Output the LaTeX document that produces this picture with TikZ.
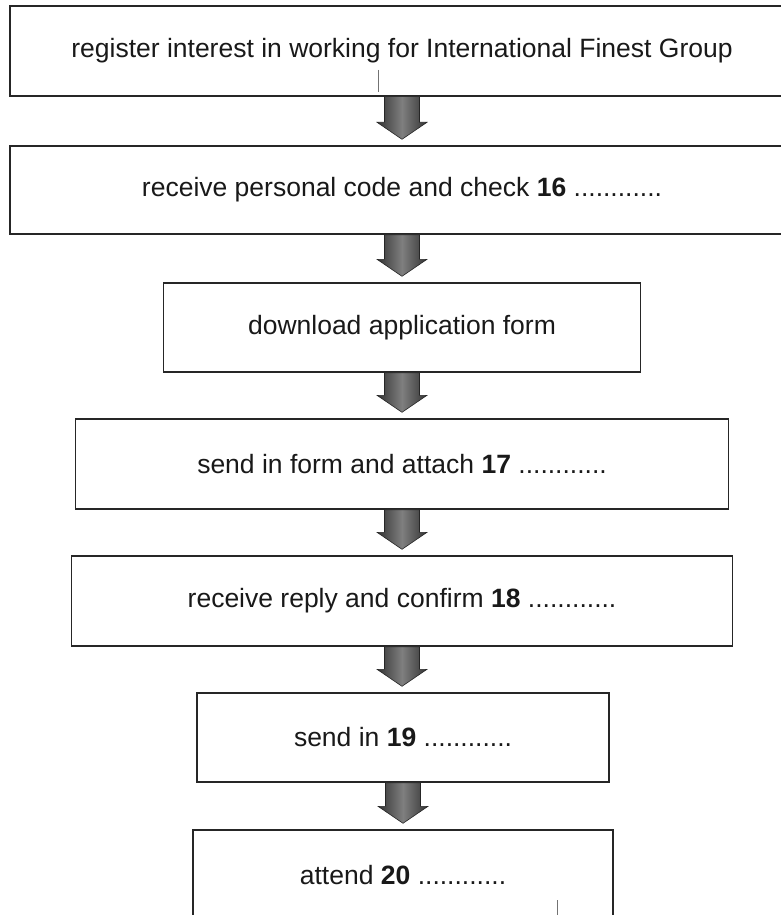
\documentclass[tikz,border=0pt]{standalone}
\usepackage{fontspec}
\setmainfont{Liberation Sans}
\usetikzlibrary{calc}
\tikzset{
  stepbox/.style={draw=black!85, line width=1.4pt, fill=white, inner sep=0pt,
    font=\fontsize{26.5}{30}\selectfont, text=black!90},
  blockarrow/.style={left color=black!80, right color=black!80, middle color=black!50,
    draw=black!85, line width=0.6pt},
  stray/.style={draw=black!55, line width=0.8pt}
}
\newcommand\flowarrow[2]{%
  \path[blockarrow] let \p1=(#1.south), \p2=(#2.north) in
    (\x1-17.5pt,\y1) -- (\x1+17.5pt,\y1) -- (\x1+17.5pt,\y2+23pt) --
    (\x1+25pt,\y2+23pt) -- (\x1,\y2+6pt) -- (\x1-25pt,\y2+23pt) --
    (\x1-17.5pt,\y2+23pt) -- cycle;}
\begin{document}
\begin{tikzpicture}[x=1pt,y=-1pt]
\useasboundingbox (0,0) rectangle (781,915);
\clip (0,0) rectangle (781,915);
\fill[white] (0,0) rectangle (781,915);
\node[stepbox, minimum width=784pt, minimum height=90pt] (b1) at (402,51)
  {register interest in working for International Finest Group};
\node[stepbox, minimum width=784pt, minimum height=88pt] (b2) at (402,190)
  {receive personal code and check \textbf{16} ............};
\node[stepbox, minimum width=477pt, minimum height=89pt] (b3) at (402,327.5)
  {download application form};
\node[stepbox, minimum width=653pt, minimum height=90pt] (b4) at (402,464)
  {send in form and attach \textbf{17} ............};
\node[stepbox, minimum width=661pt, minimum height=90pt] (b5) at (402,601)
  {receive reply and confirm \textbf{18} ............};
\node[stepbox, minimum width=412pt, minimum height=89pt] (b6) at (403,737.5)
  {send in \textbf{19} ............};
\node[stepbox, minimum width=420pt, minimum height=90pt] (b7) at (403,875)
  {attend \textbf{20} ............};
\flowarrow{b1}{b2}
\flowarrow{b2}{b3}
\flowarrow{b3}{b4}
\flowarrow{b4}{b5}
\flowarrow{b5}{b6}
\flowarrow{b6}{b7}
\draw[stray] (378,70) -- (378,92);
\draw[stray] (557,900) -- (557,915);
\end{tikzpicture}
\end{document}
